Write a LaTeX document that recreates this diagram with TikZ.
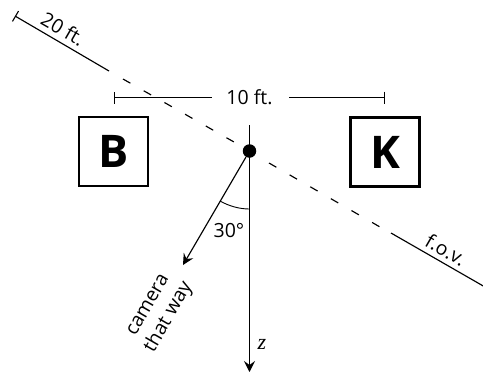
\documentclass[tikz,border=0pt]{standalone}
\usepackage{fontspec}
\setmainfont{Open Sans}
\usetikzlibrary{arrows.meta}
\tikzset{
  px/.style={x=1pt,y=-1pt},
  fig/.style={draw=black,line width=1.15pt},
  boxed/.style={draw=black,line width=2.4pt,minimum width=69pt,minimum height=69pt,inner sep=0pt,font=\fontsize{45}{45}\selectfont\bfseries},
  lbl/.style={inner sep=0pt,font=\fontsize{19.5}{21}\selectfont},
  arw/.style={-{Stealth[length=11pt,width=11pt,inset=4pt]}},
  dimtip/.style={{Bar[width=12pt,line width=1.1pt]}-},
}
\begin{document}
\begin{tikzpicture}[px]
\useasboundingbox (0,0) rectangle (483,373);
\node[boxed] (B) at (113.5,151.5) {B};
\node[boxed] (K) at (385,152) {K};
\node[circle,fill=black,minimum size=13.5pt,inner sep=0pt] (cam) at (249.5,151) {};
\coordinate (ztop) at (249.5,125);
\coordinate (ztip) at (249.5,372);
\coordinate (camtip) at (183,265);
\coordinate (fovA) at (15,16);
\coordinate (fovB) at (109,71);
\coordinate (fovC) at (123,79);
\coordinate (fovD) at (234,142);
\coordinate (fovE) at (269,163);
\coordinate (fovF) at (380,227);
\coordinate (fovG) at (391,233);
\coordinate (fovH) at (485,287);
\coordinate (dimL) at (113.5,97.5);
\coordinate (dimLe) at (212,97.5);
\coordinate (dimR) at (385,97.5);
\coordinate (dimRe) at (289,97.5);
\coordinate (arcA) at (220,201);
\coordinate (arcB) at (249.5,209);
\draw[fig,arw,line width=1.3pt] (ztop) -- (ztip);
\draw[fig,arw] (cam) -- (camtip);
\draw[fig,dimtip] (fovA) -- (fovB);
\draw[fig,dash pattern=on 8.5pt off 15.3pt] (fovC) -- (fovD);
\draw[fig,dash pattern=on 8.5pt off 15.3pt] (fovE) -- (fovF);
\draw[fig] (fovG) -- (fovH);
\draw[fig,dimtip] (dimL) -- (dimLe);
\draw[fig,dimtip] (dimR) -- (dimRe);
\draw[fig,line width=0.9pt] (arcA) .. controls (229,206) and (239,209) .. (arcB);
\node[lbl] (tenft) at (249.5,97) {10 ft.};
\node[lbl,rotate=-30] (twenty) at (63,29) {20 ft.};
\node[lbl,rotate=-30] (fov) at (446,250) {f.o.v.};
\node[lbl] (thirty) at (229,231) {30°};
\node[lbl,rotate=60,align=center,font=\fontsize{19.5}{24}\selectfont] (way) at (160,312) {camera\\that way};
\node[inner sep=0pt,font=\fontsize{22}{22}\selectfont] (z) at (262,344) {\fontspec{Liberation Serif}\itshape z};
\end{tikzpicture}
\end{document}
